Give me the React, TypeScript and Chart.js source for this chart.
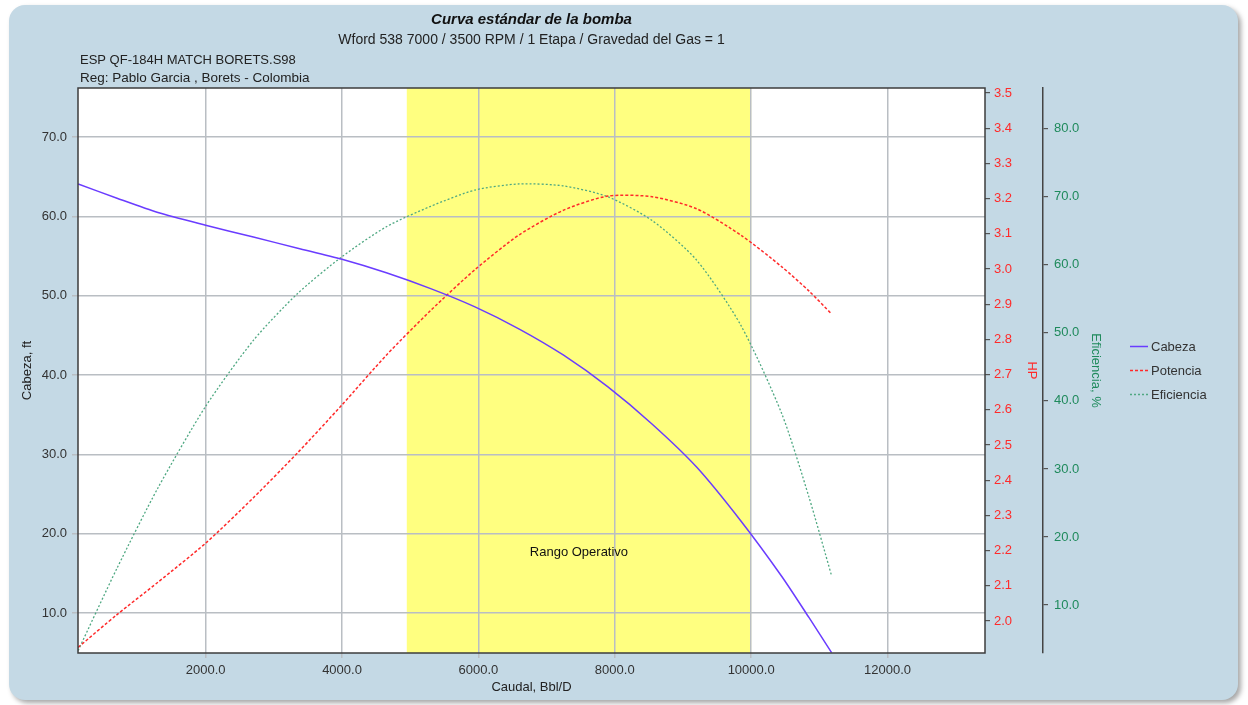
import { useEffect, useRef } from "react";
import { Chart, registerables } from "chart.js";

Chart.register(...registerables);

// Pump performance table (flow in Bbl/D)
const flowBblD = [130, 700, 1300, 2000, 2700, 3350, 4000, 4650, 5300, 5950, 6600, 7250, 7900, 8550, 9200, 9850, 10450, 10850, 11180];
const headFt = [64.1, 62.3, 60.5, 58.9, 57.4, 56.0, 54.6, 52.9, 50.9, 48.6, 45.8, 42.5, 38.5, 33.8, 28.4, 21.6, 14.6, 9.4, 5.0];
const powerHp = [1.925, 2.018, 2.11, 2.221, 2.35, 2.478, 2.614, 2.755, 2.882, 2.998, 3.097, 3.167, 3.207, 3.205, 3.171, 3.096, 3.006, 2.937, 2.872];
const efficiencyPct = [3.3, 15.4, 27.2, 39.2, 48.9, 55.8, 61.2, 65.6, 68.6, 71.0, 71.9, 71.6, 70.0, 66.5, 60.7, 51.1, 38.1, 25.8, 14.3];

// Recommended operating window
const operatingRange = [4950, 10000];

// Axis ticks
const flowTicks = [2000, 4000, 6000, 8000, 10000, 12000];
const headTicks = [10, 20, 30, 40, 50, 60, 70];
const hpTicks = [2.0, 2.1, 2.2, 2.3, 2.4, 2.5, 2.6, 2.7, 2.8, 2.9, 3.0, 3.1, 3.2, 3.3, 3.4, 3.5];
const effTicks = [10, 20, 30, 40, 50, 60, 70, 80];

const seriesNames = ["Cabeza", "Potencia", "Eficiencia"];
const titleText = "Curva estándar de la bomba";
const subtitleText = "Wford 538 7000 / 3500 RPM / 1 Etapa / Gravedad del Gas = 1";
const infoLines = ["ESP QF-184H MATCH BORETS.S98", "Reg: Pablo Garcia , Borets - Colombia"];
const bandLabel = "Rango Operativo";

const FONT = "'Liberation Sans', Arial, sans-serif";
const BLUE = "#6a3cff";
const RED = "#ff2a2a";
const GREEN = "#4fa882";
const GRID = "#b9bec3";

const fixedTicks = (values: number[]) => (scale: any) => {
  scale.ticks = values.map((v) => ({ value: v }));
};

const decorPlugin = {
  id: "decor",
  beforeDraw(chart: any) {
    const { ctx, chartArea: a, scales } = chart;
    ctx.save();
    ctx.fillStyle = "#ffffff";
    ctx.fillRect(a.left, a.top, a.right - a.left, a.bottom - a.top);
    const x0 = scales.x.getPixelForValue(operatingRange[0]);
    const x1 = scales.x.getPixelForValue(operatingRange[1]);
    ctx.fillStyle = "#ffff80";
    ctx.fillRect(x0, a.top, x1 - x0, a.bottom - a.top);
    ctx.restore();
  },
  afterDraw(chart: any) {
    const { ctx, chartArea: a, scales } = chart;
    ctx.save();
    // plot frame
    ctx.strokeStyle = "#3c3c3c";
    ctx.lineWidth = 1.5;
    ctx.strokeRect(a.left, a.top, a.right - a.left, a.bottom - a.top);

    // band caption
    ctx.fillStyle = "#111";
    ctx.font = `13px ${FONT}`;
    ctx.textAlign = "center";
    ctx.textBaseline = "middle";
    const bx = scales.x.getPixelForValue((operatingRange[0] + operatingRange[1]) / 2);
    ctx.fillText(bandLabel, bx, scales.y.getPixelForValue(17.6));

    // titles
    const cx = (a.left + a.right) / 2;
    ctx.font = `italic bold 15px ${FONT}`;
    ctx.fillStyle = "#111";
    ctx.fillText(titleText, cx, 20);
    ctx.font = `14px ${FONT}`;
    ctx.fillStyle = "#222";
    ctx.fillText(subtitleText, cx, 40);
    ctx.textAlign = "left";
    ctx.font = `13px ${FONT}`;
    ctx.fillText(infoLines[0], a.left + 2, 60);
    ctx.font = `13.5px ${FONT}`;
    ctx.fillText(infoLines[1], a.left + 2, 78);

    // legend
    const colors = [BLUE, RED, GREEN];
    const dashes = [[], [3, 2], [2, 2]];
    const lx = a.right + 145;
    const cy = (a.top + a.bottom) / 2;
    seriesNames.forEach((name, i) => {
      const y = cy + (i - 1) * 24;
      ctx.strokeStyle = colors[i];
      ctx.lineWidth = 1.5;
      ctx.setLineDash(dashes[i]);
      ctx.beginPath();
      ctx.moveTo(lx, y);
      ctx.lineTo(lx + 18, y);
      ctx.stroke();
      ctx.setLineDash([]);
      ctx.fillStyle = "#333";
      ctx.font = `13px ${FONT}`;
      ctx.fillText(name, lx + 21, y + 1);
    });
    ctx.restore();
  },
};

export default function App() {
  const ref = useRef<HTMLCanvasElement>(null);

  useEffect(() => {
    if (!ref.current) return;
    const tickFont = { family: FONT, size: 13 };
    const chart = new Chart(ref.current, {
      type: "line",
      data: {
        datasets: [
          {
            label: seriesNames[0],
            data: flowBblD.map((x, i) => ({ x, y: headFt[i] })),
            borderColor: BLUE,
            borderWidth: 1.5,
            yAxisID: "y",
            tension: 0.25,
          },
          {
            label: seriesNames[1],
            data: flowBblD.map((x, i) => ({ x, y: powerHp[i] })),
            borderColor: RED,
            borderWidth: 1.5,
            borderDash: [3, 2],
            yAxisID: "y1",
            tension: 0.25,
          },
          {
            label: seriesNames[2],
            data: flowBblD.map((x, i) => ({ x, y: efficiencyPct[i] })),
            borderColor: GREEN,
            borderWidth: 1.3,
            borderDash: [2, 2],
            yAxisID: "y2",
            tension: 0.25,
          },
        ],
      },
      options: {
        animation: false,
        responsive: false,
        events: [],
        elements: { point: { radius: 0 } },
        layout: { padding: { left: 16, right: 141, top: 88, bottom: 6 } },
        plugins: { legend: { display: false }, tooltip: { enabled: false }, title: { display: false } },
        scales: {
          x: {
            type: "linear",
            min: 128,
            max: 13430,
            afterBuildTicks: fixedTicks(flowTicks),
            afterFit: (s: any) => { s.height = 46; },
            ticks: { font: tickFont, color: "#333", padding: 5, maxRotation: 0, callback: (v: any) => Number(v).toFixed(1) },
            grid: { color: GRID, lineWidth: 1.5, tickLength: 5, tickColor: GRID },
            border: { display: false },
            title: { display: true, text: "Caudal, Bbl/D", font: { family: FONT, size: 13 }, color: "#222" },
          },
          y: {
            type: "linear",
            position: "left",
            min: 4.95,
            max: 76.2,
            afterBuildTicks: fixedTicks(headTicks),
            afterFit: (s: any) => { s.width = 62; },
            ticks: { font: tickFont, color: "#333", padding: 5, callback: (v: any) => Number(v).toFixed(1) },
            grid: { color: GRID, lineWidth: 1.5, tickLength: 6, tickColor: GRID },
            border: { display: false },
            title: { display: true, text: "Cabeza, ft", font: { family: FONT, size: 13 }, color: "#222" },
          },
          y1: {
            type: "linear",
            position: "right",
            min: 1.909,
            max: 3.514,
            afterBuildTicks: fixedTicks(hpTicks),
            afterFit: (s: any) => { s.width = 58; },
            ticks: { font: tickFont, color: RED, padding: 4, callback: (v: any) => Number(v).toFixed(1) },
            grid: { drawOnChartArea: false, tickLength: 5, tickColor: "#555", lineWidth: 1.2 },
            border: { display: false },
            title: { display: true, text: "HP", font: { family: FONT, size: 13 }, color: RED },
          },
          y2: {
            type: "linear",
            position: "right",
            min: 2.94,
            max: 86,
            afterBuildTicks: fixedTicks(effTicks),
            afterFit: (s: any) => { s.width = 64; },
            ticks: { font: tickFont, color: "#1f8a5c", padding: 6, callback: (v: any) => Number(v).toFixed(1) },
            grid: { drawOnChartArea: false, tickLength: 5, tickColor: "#555", lineWidth: 1.2 },
            border: { display: true, color: "#444", width: 1.5 },
            title: { display: true, text: "Eficiencia, %", font: { family: FONT, size: 13 }, color: "#1f8a5c" },
          },
        },
      },
      plugins: [decorPlugin],
    } as any);
    return () => chart.destroy();
  }, []);

  return (
    <div style={{ position: "absolute", left: 0, top: 0, width: 1248, height: 705, overflow: "hidden", background: "#ffffff" }}>
      <div
        style={{
          position: "absolute",
          left: 9,
          top: 5,
          width: 1229,
          height: 695,
          background: "#c4d9e5",
          borderRadius: 16,
          boxShadow: "3px 3px 5px rgba(0,0,0,0.35)",
        }}
      />
      <canvas ref={ref} width={1248} height={705} style={{ position: "absolute", left: 0, top: 0, width: 1248, height: 705 }} />
    </div>
  );
}
